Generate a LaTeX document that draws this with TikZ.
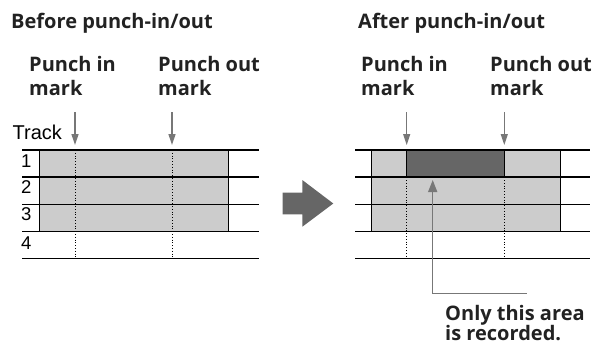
\documentclass[tikz,border=0pt]{standalone}
\usepackage{fontspec}
\newfontfamily\labfont{Open Sans}
\newfontfamily\helvfont{Liberation Sans}
\usetikzlibrary{arrows.meta}
\definecolor{arrowgray}{HTML}{777777}
\definecolor{lightfill}{HTML}{CCCCCC}
\definecolor{darkfill}{HTML}{666666}
\definecolor{textcol}{HTML}{222222}
\tikzset{
  lbl/.style={font=\labfont\bfseries\fontsize{20}{24}\selectfont, anchor=base west, inner sep=0pt, text=textcol},
  num/.style={font=\helvfont\fontsize{18.5}{22}\selectfont, anchor=base west, inner sep=0pt, text=black},
  trackname/.style={font=\helvfont\fontsize{20}{24}\selectfont, anchor=base west, inner sep=0pt, text=black},
  trackline/.style={line width=1.7pt, black},
  areabox/.style={draw=black, line width=1.2pt, fill=lightfill},
  recbox/.style={draw=black, line width=1.2pt, fill=darkfill},
  markline/.style={black, dotted, line width=0.8pt},
  markarrow/.style={draw=arrowgray, line width=1.3pt, -{Triangle[width=7pt,length=11pt]}},
  pointer/.style={draw=arrowgray, line width=1.5pt, -{Triangle[width=9pt,length=12pt]}},
  bigarrow/.style={fill=darkfill, draw=none}
}
\begin{document}
\begin{tikzpicture}[x=1pt,y=-1pt]
\useasboundingbox (0,0) rectangle (596,349);

% ---------- Left panel ----------
\node[lbl] (titleL) at (11,28.3) {Before punch-in/out};
\node[lbl] (pinL) at (29,71.7) {Punch in};
\node[lbl] (pinLm) at (29,95.7) {mark};
\node[lbl] (poutL) at (158,71.7) {Punch out};
\node[lbl] (poutLm) at (158,95.7) {mark};
\node[trackname] (track) at (12.5,139) {Track};

\draw[areabox] (39.3,150) rectangle (228.3,231.5);
\draw[markline] (75,150) -- (75,258.5);
\draw[markline] (172,150) -- (172,258.5);
\foreach \yy in {150,177.2,204.5,231.5,258.5}
  \draw[trackline] (22,\yy) -- (259,\yy);

\node[num] (n1) at (21,167.3) {1};
\node[num] (n2) at (21,193.5) {2};
\node[num] (n3) at (21,220.5) {3};
\node[num] (n4) at (21,249.5) {4};

\coordinate (inLs) at (75,112);
\coordinate (inLe) at (75,145);
\coordinate (outLs) at (172,112);
\coordinate (outLe) at (172,145);
\draw[markarrow] (inLs) -- (inLe);
\draw[markarrow] (outLs) -- (outLe);

% ---------- Big arrow ----------
\fill[bigarrow] (282.7,192.7) -- (302.3,192.7) -- (302.3,180) -- (333.3,203.5)
  -- (302.3,226.7) -- (302.3,214.3) -- (282.7,214.3) -- cycle;

% ---------- Right panel ----------
\node[lbl] (titleR) at (358,28.3) {After punch-in/out};
\node[lbl] (pinR) at (361,71.7) {Punch in};
\node[lbl] (pinRm) at (361,95.7) {mark};
\node[lbl] (poutR) at (490,71.7) {Punch out};
\node[lbl] (poutRm) at (490,95.7) {mark};

\draw[areabox] (371.7,150) rectangle (560.7,231.5);
\draw[recbox] (406.7,150) rectangle (504.3,177.2);
\draw[markline] (406.7,177.2) -- (406.7,258.5);
\draw[markline] (504.3,177.2) -- (504.3,258.5);
\foreach \yy in {150,177.2,204.5,231.5,258.5}
  \draw[trackline] (355,\yy) -- (590,\yy);

\coordinate (inRs) at (406.7,112);
\coordinate (inRe) at (406.7,145);
\coordinate (outRs) at (504.3,112);
\coordinate (outRe) at (504.3,145);
\draw[markarrow] (inRs) -- (inRe);
\draw[markarrow] (outRs) -- (outRe);

\node[lbl] (only) at (445,320) {Only this area};
\node[lbl] (isrec) at (445,340.7) {is recorded.};
\coordinate (pend) at (526.7,293.3);
\coordinate (pcorner) at (432.7,293.3);
\coordinate (ptip) at (432.7,180);
\draw[pointer] (pend) -- (pcorner) -- (ptip);
\end{tikzpicture}
\end{document}
